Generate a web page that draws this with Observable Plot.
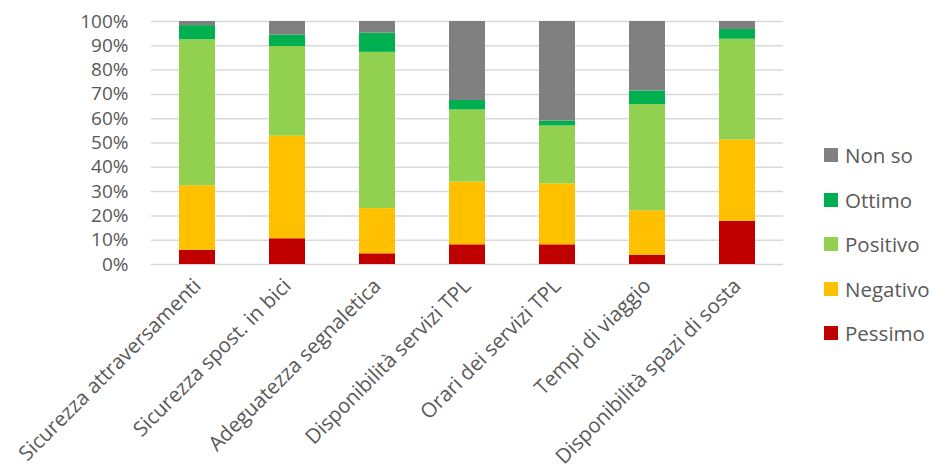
<!DOCTYPE html>
<html>
<head>
<meta charset="utf-8">
<script src="https://cdn.jsdelivr.net/npm/d3@7"></script>
<script src="https://cdn.jsdelivr.net/npm/@observablehq/plot@0.6"></script>
<style>
  html, body { margin: 0; padding: 0; background: #fff; }
  #wrap { position: relative; width: 933px; height: 473px; font-family: "Open Sans", sans-serif; }
  #legend { position: absolute; left: 824px; top: 0; }
  .item { position: absolute; white-space: nowrap; display: flex; align-items: center; font-size: 20.5px; color: #595959; }
  .sw { width: 14px; height: 14px; margin-right: 7px; }
</style>
</head>
<body>
<div id="wrap"></div>
<script>
const categories = [
  "Sicurezza attraversamenti",
  "Sicurezza spost. in bici",
  "Adeguatezza segnaletica",
  "Disponibilità servizi TPL",
  "Orari dei servizi TPL",
  "Tempi di viaggio",
  "Disponibilità spazi di sosta"
];
const seriesNames = ["Pessimo", "Negativo", "Positivo", "Ottimo", "Non so"];
const seriesColors = ["#C00000", "#FFC000", "#92D050", "#00B050", "#808080"];
const pessimo  = [5.8, 10.6, 4.4, 8.1, 8.1, 3.8, 17.8];
const negativo = [26.6, 42.2, 18.6, 25.8, 25.1, 18.3, 33.5];
const positivo = [60.1, 36.9, 64.3, 29.7, 23.8, 43.7, 41.4];
const ottimo   = [5.8, 4.7, 7.9, 3.9, 2.0, 5.6, 4.0];
const nonSo    = [1.7, 5.6, 4.8, 32.5, 41.0, 28.6, 3.3];
const yTicks = [0, 0.1, 0.2, 0.3, 0.4, 0.5, 0.6, 0.7, 0.8, 0.9, 1];

const seriesValues = [pessimo, negativo, positivo, ottimo, nonSo];
const data = [];
seriesNames.forEach((s, i) => {
  categories.forEach((c, j) => {
    data.push({category: c, series: s, value: seriesValues[i][j] / 100});
  });
});

const chart = Plot.plot({
  width: 933,
  height: 473,
  marginLeft: 151,
  marginRight: 150,
  marginTop: 21,
  marginBottom: 209,
  style: {fontFamily: "Open Sans, sans-serif", fontSize: "19px", color: "#595959", background: "#fff"},
  x: {domain: categories, paddingInner: 0.6, paddingOuter: 0.3, label: null},
  y: {domain: [0, 1], label: null},
  color: {domain: seriesNames, range: seriesColors},
  marks: [
    Plot.gridY(yTicks, {stroke: "#d9d9d9", strokeOpacity: 1, strokeWidth: 1.5}),
    Plot.barY(data, {x: "category", y: "value", fill: "series", order: seriesNames}),
    Plot.axisY({ticks: yTicks, tickFormat: d3.format(".0%"), tickSize: 0, tickPadding: 23, fill: "#595959", fontSize: 19}),
    Plot.axisX({tickSize: 0, tickRotate: -45, tickPadding: 18, fill: "#595959", fontSize: 20.5})
  ]
});
const wrap = document.getElementById("wrap");
wrap.appendChild(chart);

const legend = document.createElement("div");
legend.id = "legend";
const legendOrder = [...seriesNames].reverse();
legendOrder.forEach((s, k) => {
  const it = document.createElement("div");
  it.className = "item";
  it.style.top = (156 + k * 44.5 - 15) + "px";
  const sw = document.createElement("span");
  sw.className = "sw";
  sw.style.background = seriesColors[seriesNames.indexOf(s)];
  it.appendChild(sw);
  it.appendChild(document.createTextNode(s));
  legend.appendChild(it);
});
wrap.appendChild(legend);
</script>
</body>
</html>
